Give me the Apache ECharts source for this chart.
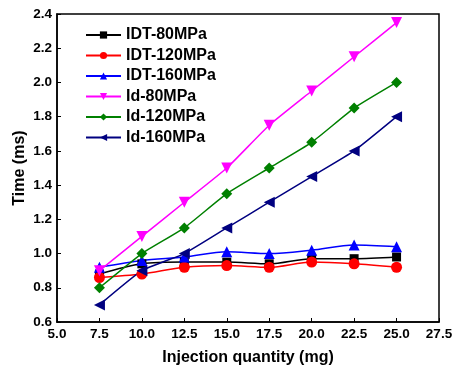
<!DOCTYPE html>
<html>
<head>
<meta charset="utf-8">
<script src="https://cdn.jsdelivr.net/npm/echarts@6/dist/echarts.min.js"></script>
<style>
    html, body { margin: 0; padding: 0; background: #fff; }
    #chart { width: 453px; height: 369px; }
</style>
</head>
<body>
<div id="chart"></div>
<script>
// injection quantity (mg)
const quantity = [7.5, 10.0, 12.5, 15.0, 17.5, 20.0, 22.5, 25.0]

const idt80 = [0.88, 0.94, 0.95, 0.95, 0.94, 0.97, 0.97, 0.98]
const idt120 = [0.86, 0.88, 0.92, 0.93, 0.92, 0.95, 0.94, 0.92]
const idt160 = [0.92, 0.96, 0.98, 1.01, 1.00, 1.02, 1.05, 1.04]
const id80 = [0.90, 1.10, 1.30, 1.50, 1.75, 1.95, 2.15, 2.35]
const id120 = [0.80, 1.00, 1.15, 1.35, 1.50, 1.65, 1.85, 2.00]
const id160 = [0.70, 0.90, 1.00, 1.15, 1.30, 1.45, 1.60, 1.80]

const font = 'Arial, "Liberation Sans", sans-serif'

function pairs(vals) {
    return quantity.map((q, i) => [q, vals[i]])
}

function line(name, vals, color, symbol, rotate, smooth) {
    return {
        name: name,
        type: 'line',
        data: pairs(vals),
        symbol: symbol,
        symbolSize: symbol === 'rect' ? 9 : 11,
        symbolRotate: rotate,
        smooth: smooth,
        lineStyle: { color: color, width: 1.5 },
        itemStyle: { color: color },
        animation: false
    }
}

const chart = echarts.init(document.getElementById('chart'))
chart.setOption({
    grid: {
        left: 57,
        right: 14,
        top: 14,
        bottom: 47,
        outerBoundsMode: 'none',
        show: true,
        borderColor: '#000',
        borderWidth: 1.5
    },
    legend: {
        orient: 'vertical',
        left: 85,
        top: 27,
        padding: 0,
        itemWidth: 35,
        itemHeight: 9,
        itemGap: 4.5,
        textStyle: { fontFamily: font, fontWeight: 'bold', fontSize: 16, color: '#000' }
    },
    xAxis: {
        type: 'value',
        min: 5,
        max: 27.5,
        interval: 2.5,
        name: 'Injection quantity (mg)',
        nameLocation: 'middle',
        nameGap: 28,
        nameMoveOverlap: false,
        nameTextStyle: { fontFamily: font, fontWeight: 'bold', fontSize: 16, color: '#000' },
        axisLine: { lineStyle: { color: '#000', width: 1.5 } },
        axisTick: { inside: true, length: 4, lineStyle: { color: '#000' } },
        axisLabel: {
            fontFamily: font, fontWeight: 'bold', fontSize: 13.5, color: '#000', margin: 5,
            formatter: v => v.toFixed(1)
        },
        splitLine: { show: false }
    },
    yAxis: {
        type: 'value',
        min: 0.6,
        max: 2.4,
        interval: 0.2,
        name: 'Time (ms)',
        nameLocation: 'middle',
        nameGap: 29,
        nameMoveOverlap: false,
        nameTextStyle: { fontFamily: font, fontWeight: 'bold', fontSize: 16, color: '#000' },
        axisLine: { lineStyle: { color: '#000', width: 1.5 } },
        axisTick: { inside: true, length: 4, lineStyle: { color: '#000' } },
        axisLabel: {
            fontFamily: font, fontWeight: 'bold', fontSize: 13.5, color: '#000', margin: 5,
            formatter: v => v.toFixed(1)
        },
        splitLine: { show: false }
    },
    series: [
        line('IDT-80MPa', idt80, '#000000', 'rect', 0, 0.3),
        line('IDT-120MPa', idt120, '#ff0000', 'circle', 0, 0.3),
        line('IDT-160MPa', idt160, '#0000ff', 'triangle', 0, 0.3),
        line('Id-80MPa', id80, '#ff00ff', 'triangle', 180, 0.15),
        line('Id-120MPa', id120, '#008000', 'diamond', 0, 0.15),
        line('Id-160MPa', id160, '#000080', 'triangle', 90, 0.15)
    ]
})
</script>
</body>
</html>
